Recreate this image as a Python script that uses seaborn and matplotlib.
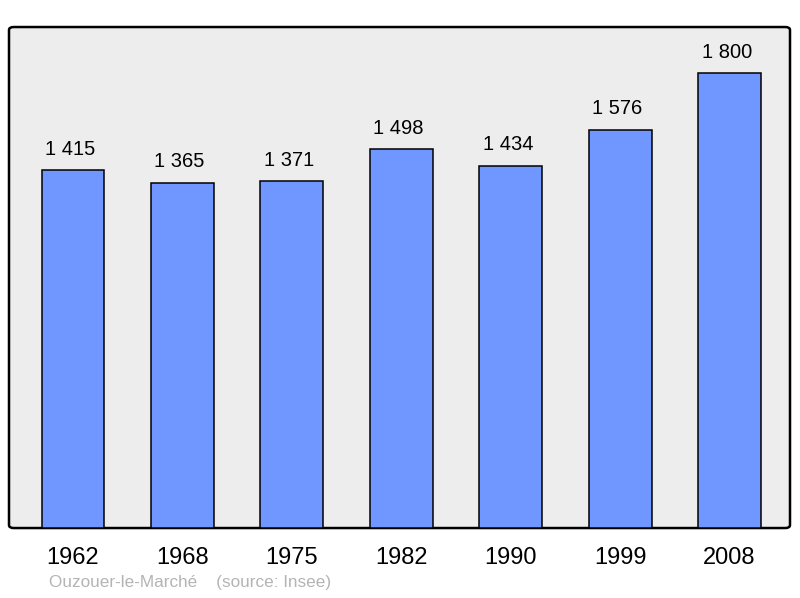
import pandas as pd
import seaborn as sns
import matplotlib.pyplot as plt
from matplotlib.patches import FancyBboxPatch

# data
years = ["1962", "1968", "1975", "1982", "1990", "1999", "2008"]
population = [1415, 1365, 1371, 1498, 1434, 1576, 1800]
value_labels = ["1 415", "1 365", "1 371", "1 498", "1 434", "1 576", "1 800"]

df = pd.DataFrame({"year": years, "population": population})

sns.set_style("white")
plt.rcParams["font.family"] = ["Liberation Sans", "DejaVu Sans"]

fig = plt.figure(figsize=(8, 5.98), dpi=100)
ax = fig.add_axes([0.01125, 0.117, 0.97625, 0.8378])

# rounded grey frame behind the bars
ax.patch.set_visible(False)
frame = FancyBboxPatch((0, 0), 1, 1, boxstyle="round,pad=0,rounding_size=0.006",
                       transform=ax.transAxes, facecolor="#ededed",
                       edgecolor="black", linewidth=1.8, zorder=0, clip_on=False)
ax.add_patch(frame)
for s in ax.spines.values():
    s.set_visible(False)

sns.barplot(data=df, x="year", y="population", order=years, color="#7096ff",
            saturation=1, edgecolor="black", linewidth=1.1, width=0.575, ax=ax, zorder=2)

for i, (v, lab) in enumerate(zip(population, value_labels)):
    ax.annotate(lab, (i, v), xytext=(-2, 8.3), textcoords="offset points",
                ha="center", va="bottom", fontsize=14.5, color="black")

ax.set_xlim(-0.585, 6.553)
ax.set_ylim(0, 1982)
ax.set_yticks([])
ax.set_xlabel("")
ax.set_ylabel("")
ax.tick_params(axis="x", length=0, labelsize=17, pad=14, labelcolor="black")

fig.text(0.061, 0.013, "Ouzouer-le-Marché    (source: Insee)", color="#b4b4b4",
         fontsize=12.3, ha="left", va="bottom")

fig.savefig("out.png", dpi=100)
